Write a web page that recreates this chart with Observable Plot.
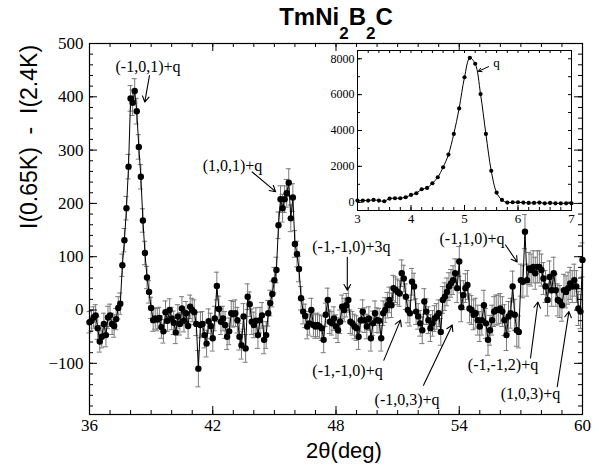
<!DOCTYPE html>
<html><head><meta charset="utf-8">
<script src="https://cdn.jsdelivr.net/npm/d3@7"></script>
<script src="https://cdn.jsdelivr.net/npm/@observablehq/plot@0.6"></script>
<style>
body{margin:0;background:#fff}
#chart{position:relative;width:599px;height:469px;background:#fff}
#chart svg{position:absolute}
</style>
</head><body><div id="chart"></div>
<script>
// ---------- main scan: 2theta (deg), I(0.65K)-I(2.4K), error ----------
const twoTheta = [
36.0,36.1,36.2,36.3,36.4,36.5,36.6,36.7,36.8,36.9,
37.0,37.1,37.2,37.3,37.4,37.5,37.6,37.7,37.8,37.9,
38.0,38.1,38.2,38.3,38.4,38.5,38.6,38.7,38.8,38.9,
39.0,39.1,39.2,39.3,39.4,39.5,39.6,39.7,39.8,39.9,
40.0,40.1,40.2,40.3,40.4,40.5,40.6,40.7,40.8,40.9,
41.0,41.1,41.2,41.3,41.4,41.5,41.6,41.7,41.8,41.9,
42.0,42.1,42.2,42.3,42.4,42.5,42.6,42.7,42.8,42.9,
43.0,43.1,43.2,43.3,43.4,43.5,43.6,43.7,43.8,43.9,
44.0,44.1,44.2,44.3,44.4,44.5,44.6,44.7,44.8,44.9,
45.0,45.1,45.2,45.3,45.4,45.5,45.6,45.7,45.8,45.9,
46.0,46.1,46.2,46.3,46.4,46.5,46.6,46.7,46.8,46.9,
47.0,47.1,47.2,47.3,47.4,47.5,47.6,47.7,47.8,47.9,
48.0,48.1,48.2,48.3,48.4,48.5,48.6,48.7,48.8,48.9,
49.0,49.1,49.2,49.3,49.4,49.5,49.6,49.7,49.8,49.9,
50.0,50.1,50.2,50.3,50.4,50.5,50.6,50.7,50.8,50.9,
51.0,51.1,51.2,51.3,51.4,51.5,51.6,51.7,51.8,51.9,
52.0,52.1,52.2,52.3,52.4,52.5,52.6,52.7,52.8,52.9,
53.0,53.1,53.2,53.3,53.4,53.5,53.6,53.7,53.8,53.9,
54.0,54.1,54.2,54.3,54.4,54.5,54.6,54.7,54.8,54.9,
55.0,55.1,55.2,55.3,55.4,55.5,55.6,55.7,55.8,55.9,
56.0,56.1,56.2,56.3,56.4,56.5,56.6,56.7,56.8,56.9,
57.0,57.1,57.2,57.3,57.4,57.5,57.6,57.7,57.8,57.9,
58.0,58.1,58.2,58.3,58.4,58.5,58.6,58.7,58.8,58.9,
59.0,59.1,59.2,59.3,59.4,59.5,59.6,59.7,59.8,59.9,
60.0];
const intensity = [
-23,-20,-14,-10,-34,-59,-50,-26,-47,-14,
-10,-26,-30,-17,4,12,84,131,191,269,
397,389,411,373,306,250,168,107,61,34,
4,-19,-16,-18,-15,-32,-40,-4,-20,0,
-16,-24,-42,-12,-26,3,-20,-6,-30,6,
0,-4,-26,-110,-28,-26,-47,-63,-21,-30,
-53,-16,45,2,-22,-16,-28,-50,-40,-6,
-8,-6,-19,-50,-66,-12,-72,25,11,-22,
-28,-20,-47,-19,-10,-56,-47,-6,13,30,
56,75,159,208,191,208,219,239,172,211,
124,105,77,22,-3,-11,-31,-25,0,-28,
-31,-28,-31,-34,-56,-9,19,-22,-25,-16,
-31,-38,-22,6,0,9,19,-22,-25,-31,
-34,-50,-19,-3,-19,-31,-16,-53,-25,-6,
-19,-20,-53,-6,0,9,19,9,41,38,
34,31,69,59,25,0,-6,53,44,-3,
-12,-25,-38,16,-3,-19,-34,-25,-16,-12,
-6,-41,19,25,34,44,50,56,69,41,
91,5,28,41,47,3,0,-9,-6,-19,
-31,-19,9,-25,-56,-38,-19,-3,0,0,
3,-3,-19,-47,-12,-6,44,-9,-38,-41,
56,53,147,56,78,75,81,69,81,81,
75,59,44,19,62,37,69,37,19,16,
9,37,34,41,50,44,56,44,3,-3,
94];
const sigma = [
20,19,20,20,21,20,21,20,22,21,
21,20,21,20,21,20,21,22,22,23,
24,24,23,24,23,23,22,22,21,21,
20,21,20,21,20,21,22,21,20,21,
21,22,21,22,21,22,21,22,23,22,
22,23,22,34,24,23,24,25,23,24,
24,23,26,24,24,23,25,24,25,24,
24,25,24,25,26,24,26,24,23,24,
24,24,25,24,24,26,25,24,24,24,
24,24,25,25,26,25,26,26,25,26,
25,24,24,22,23,22,23,22,22,22,
22,22,22,23,24,22,22,22,22,22,
22,23,22,22,22,22,23,22,22,23,
23,24,22,22,23,23,22,24,23,23,
23,23,24,23,23,24,24,23,24,24,
24,24,25,25,24,24,24,25,25,24,
24,24,25,24,24,25,25,24,24,24,
25,25,25,26,26,26,26,27,27,27,
28,27,27,27,27,27,27,28,28,28,
28,28,28,28,29,28,28,28,28,28,
28,28,29,29,28,28,29,29,30,30,
30,30,32,30,30,30,30,30,30,30,
30,30,30,30,30,30,30,30,30,30,
30,30,30,30,30,30,30,30,32,32,
32];

// ---------- inset: q scan ----------
const insetX = [3.0,3.1,3.2,3.3,3.4,3.5,3.6,3.7,3.8,3.9,4.0,4.1,4.2,4.3,4.4,4.5,4.6,4.7,4.8,4.9,
  5.0,5.1,5.2,5.3,5.4,5.5,5.6,5.7,5.8,5.9,6.0,6.1,6.2,6.3,6.4,6.5,6.6,6.7,6.8,6.9,7.0];
const insetCounts = [93,93,93,130,93,56,205,223,223,280,409,502,725,800,1060,1395,1950,2660,3810,5230,
  6970,8050,7720,6030,3810,1750,540,130,-20,0,0,-20,-40,-40,-20,-60,-40,-60,-60,-60,-60];

// ---------- ticks ----------
const xMajorTicks = [36,42,48,54,60];
const xMinorTicks = [36,37,38,39,40,41,42,43,44,45,46,47,48,49,50,51,52,53,54,55,56,57,58,59,60];
const yMajorTicks = [-100,0,100,200,300,400,500];
const yMinorTicks = [-180,-160,-140,-120,-100,-80,-60,-40,-20,0,20,40,60,80,100,120,140,160,180,200,
  220,240,260,280,300,320,340,360,380,400,420,440,460,480,500];
const insetXMajor = [3,4,5,6,7];
const insetXMinor = [3,3.2,3.4,3.6,3.8,4,4.2,4.4,4.6,4.8,5,5.2,5.4,5.6,5.8,6,6.2,6.4,6.6,6.8,7];
const insetYMajor = [0,2000,4000,6000,8000];
const insetYMinor = [0,1000,2000,3000,4000,5000,6000,7000,8000];

// ---------- annotations (data coordinates) ----------
const labels = [
  {text: "(-1,0,1)+q", x: 38.85, y: 457},
  {text: "(1,0,1)+q", x: 42.96, y: 270},
  {text: "(-1,-1,0)+3q", x: 48.75, y: 118},
  {text: "(-1,1,0)+q", x: 54.62, y: 133},
  {text: "(-1,-1,0)+q", x: 48.56, y: -115},
  {text: "(-1,0,3)+q", x: 51.46, y: -168},
  {text: "(-1,-1,2)+q", x: 56.13, y: -103},
  {text: "(1,0,3)+q", x: 57.47, y: -158}
];
const arrows = [
  {x1: 38.92, y1: 440, x2: 38.69, y2: 390},
  {x1: 43.92, y1: 259, x2: 45.06, y2: 222},
  {x1: 48.55, y1: 99, x2: 48.55, y2: 37},
  {x1: 56.25, y1: 122, x2: 56.82, y2: 90},
  {x1: 50.33, y1: -94, x2: 51.14, y2: -19},
  {x1: 52.26, y1: -141, x2: 53.66, y2: -28},
  {x1: 57.47, y1: -90, x2: 57.83, y2: 15},
  {x1: 58.77, y1: -144, x2: 59.34, y2: -3}
];
const insetLabel = [{text: "q", x: 5.6, y: 7750}];
const insetArrow = [{x1: 5.45, y1: 7560, x2: 5.26, y2: 7300}];

const serif = "'Liberation Serif', 'Times New Roman', serif";
const sans = "'Liberation Sans', Arial, sans-serif";
const yDom = [-196, 500];
const xDom = [36, 60];

const data = twoTheta.map((x, i) => ({x, y: intensity[i], lo: intensity[i] - sigma[i], hi: intensity[i] + sigma[i]}));
const errColor = "#7a7a7a";

const main = Plot.plot({
  width: 599, height: 469,
  marginLeft: 89, marginRight: 17, marginTop: 43, marginBottom: 55,
  x: {domain: xDom},
  y: {domain: yDom},
  style: {fontFamily: serif, fontSize: "17px", background: "white", color: "black", overflow: "visible"},
  marks: [
    Plot.ruleX(data, {x: "x", y1: "lo", y2: "hi", stroke: errColor, strokeWidth: 1}),
    Plot.ruleY(data, {y: "lo", x1: "x", x2: "x", insetLeft: -2.5, insetRight: -2.5, stroke: errColor}),
    Plot.ruleY(data, {y: "hi", x1: "x", x2: "x", insetLeft: -2.5, insetRight: -2.5, stroke: errColor}),
    Plot.line(data, {x: "x", y: "y", stroke: "black", strokeWidth: 1}),
    Plot.dot(data, {x: "x", y: "y", r: 3.2, fill: "black", stroke: "none"}),
    Plot.frame({stroke: "black", strokeWidth: 1.2}),
    // inward ticks
    Plot.ruleX(xMinorTicks, {x: d => d, y1: yDom[0], y2: yDom[0], insetTop: -4, stroke: "black"}),
    Plot.ruleX(xMajorTicks, {x: d => d, y1: yDom[0], y2: yDom[0], insetTop: -8, stroke: "black"}),
    Plot.ruleX(xMinorTicks, {x: d => d, y1: yDom[1], y2: yDom[1], insetBottom: -4, stroke: "black"}),
    Plot.ruleX(xMajorTicks, {x: d => d, y1: yDom[1], y2: yDom[1], insetBottom: -8, stroke: "black"}),
    Plot.ruleY(yMinorTicks, {y: d => d, x1: xDom[0], x2: xDom[0], insetRight: -4, stroke: "black"}),
    Plot.ruleY(yMajorTicks, {y: d => d, x1: xDom[0], x2: xDom[0], insetRight: -8, stroke: "black"}),
    Plot.ruleY(yMinorTicks, {y: d => d, x1: xDom[1], x2: xDom[1], insetLeft: -4, stroke: "black"}),
    Plot.ruleY(yMajorTicks, {y: d => d, x1: xDom[1], x2: xDom[1], insetLeft: -8, stroke: "black"}),
    Plot.axisX({ticks: xMajorTicks, tickSize: 0, tickPadding: 4, label: null, fontSize: 17}),
    Plot.axisY({ticks: yMajorTicks, tickSize: 0, tickPadding: 6, label: null, fontSize: 17}),
    // annotations
    Plot.arrow(arrows, {x1: "x1", y1: "y1", x2: "x2", y2: "y2", headLength: 9, strokeWidth: 1.1, stroke: "black"}),
    Plot.text(labels, {x: "x", y: "y", text: "text", fontSize: 16, fontFamily: serif, fill: "black"}),
    // axis titles
    Plot.text(["2\u03b8(deg)"], {frameAnchor: "bottom", dx: 8, dy: 43, fontSize: 22, fontFamily: sans, fill: "black"}),
    Plot.text(["I(0.65K) \u00a0-\u00a0 I(2.4K)"], {frameAnchor: "left", dx: -60, rotate: -90, fontSize: 23, fontFamily: sans, fill: "black"})
  ]
});

const insetData = insetX.map((x, i) => ({x, y: insetCounts[i]}));
const iyDom = [-460, 8460];
const ixDom = [3, 7];
const plain = d => String(d);
const inset = Plot.plot({
  width: 280, height: 210,
  marginLeft: 57, marginRight: 9, marginTop: 20, marginBottom: 30,
  x: {domain: ixDom},
  y: {domain: iyDom},
  style: {fontFamily: serif, fontSize: "12px", background: "transparent", color: "black", overflow: "visible"},
  marks: [
    Plot.frame({fill: "white", stroke: "black", strokeWidth: 1}),
    Plot.line(insetData, {x: "x", y: "y", curve: "catmull-rom", stroke: "black", strokeWidth: 1}),
    Plot.dot(insetData, {x: "x", y: "y", r: 2.1, fill: "black", stroke: "none"}),
    Plot.ruleX(insetXMinor, {x: d => d, y1: iyDom[0], y2: iyDom[0], insetTop: -3, stroke: "black"}),
    Plot.ruleX(insetXMajor, {x: d => d, y1: iyDom[0], y2: iyDom[0], insetTop: -5, stroke: "black"}),
    Plot.ruleX(insetXMinor, {x: d => d, y1: iyDom[1], y2: iyDom[1], insetBottom: -3, stroke: "black"}),
    Plot.ruleY(insetYMinor, {y: d => d, x1: ixDom[0], x2: ixDom[0], insetRight: -3, stroke: "black"}),
    Plot.ruleY(insetYMajor, {y: d => d, x1: ixDom[0], x2: ixDom[0], insetRight: -5, stroke: "black"}),
    Plot.ruleY(insetYMinor, {y: d => d, x1: ixDom[1], x2: ixDom[1], insetLeft: -3, stroke: "black"}),
    Plot.axisX({ticks: insetXMajor, tickFormat: plain, tickSize: 0, tickPadding: 3, label: null, fontSize: 13}),
    Plot.axisY({ticks: insetYMajor, tickFormat: plain, tickSize: 0, tickPadding: 3, label: null, fontSize: 12}),
    Plot.arrow(insetArrow, {x1: "x1", y1: "y1", x2: "x2", y2: "y2", headLength: 6, strokeWidth: 1, stroke: "black"}),
    Plot.text(insetLabel, {x: "x", y: "y", text: "text", fontSize: 13, fontFamily: serif, fill: "black"})
  ]
});

const chart = document.getElementById("chart");
main.style.left = "0px"; main.style.top = "0px";
inset.style.left = "300px"; inset.style.top = "30px";
chart.appendChild(main);
chart.appendChild(inset);

// title with subscripts
const t = d3.select(main).append("text")
  .attr("x", 336).attr("y", 25)
  .attr("text-anchor", "middle")
  .attr("font-family", sans).attr("font-weight", "bold").attr("font-size", 24)
  .attr("fill", "black");
t.append("tspan").text("TmNi");
t.append("tspan").attr("dy", 14).attr("font-size", 17).text("2");
t.append("tspan").attr("dy", -14).text("B");
t.append("tspan").attr("dy", 14).attr("font-size", 17).text("2");
t.append("tspan").attr("dy", -14).text("C");
</script>
</body></html>
